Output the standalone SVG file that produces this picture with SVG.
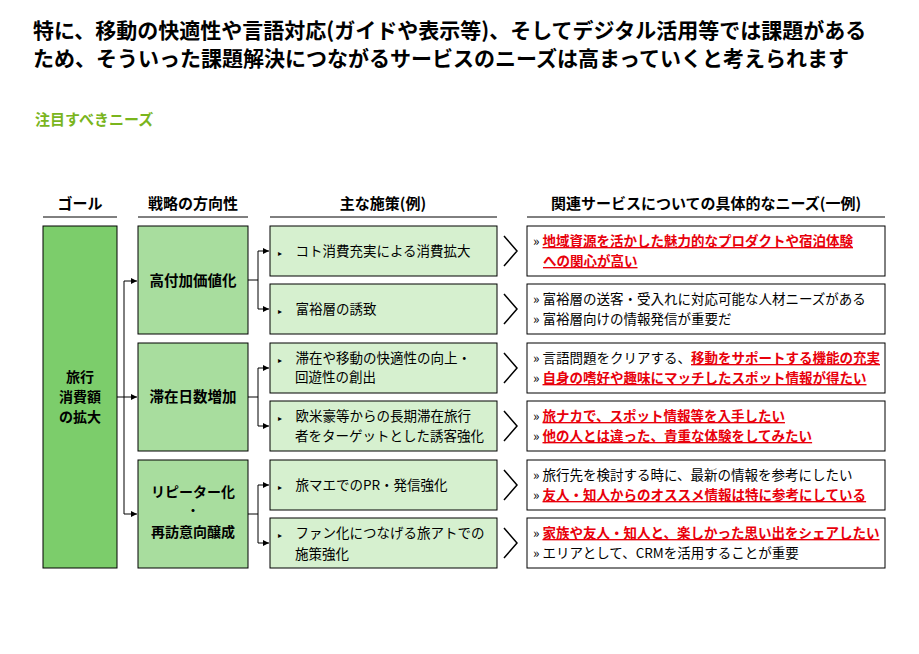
<svg xmlns="http://www.w3.org/2000/svg" width="919" height="654" viewBox="0 0 919 654">
<defs>
<marker id="ar" viewBox="0 0 6 6" refX="6" refY="3" markerWidth="6" markerHeight="6" orient="auto"><path d="M0,0L6,3L0,6z" fill="#000"/></marker>
<style>
text{font-family:"Noto Sans CJK JP","Noto Sans",sans-serif;fill:#000}
.t{font-size:21px;font-weight:bold}
.h{font-size:15px;text-anchor:middle;font-weight:bold}
.b{stroke:#000;stroke-width:1}
.g{fill:#7ccd6b}.s{fill:#a8dd9e}.m{fill:#d6f0cf}.n{fill:#fff}
.bt{font-size:14.5px;font-weight:bold;text-anchor:middle}
.mt{font-size:13.5px}
.r{fill:#e8000b;font-weight:bold;text-decoration:underline}
.ln{stroke:#000;fill:none}
.ch{stroke:#000;fill:none;stroke-width:1.5}
</style>
</defs>
<rect width="919" height="654" fill="#fff"/>
<text class="t" x="33" y="38">特に、移動の快適性や言語対応(ガイドや表示等)、そしてデジタル活用等では課題がある</text>
<text class="t" x="33" y="66">ため、そういった課題解決につながるサービスのニーズは高まっていくと考えられます</text>
<text x="35" y="125" style="font-size:15px;font-weight:bold;fill:#7ab51d">注目すべきニーズ</text>
<g id="headers">
<text class="h" x="80" y="209">ゴール</text><line x1="43" y1="217" x2="117" y2="217" class="ln"/>
<text class="h" x="193" y="209">戦略の方向性</text><line x1="138" y1="217" x2="248" y2="217" class="ln"/>
<text class="h" x="383" y="209">主な施策(例)</text><line x1="270" y1="217" x2="497" y2="217" class="ln"/>
<text class="h" x="706" y="209">関連サービスについての具体的なニーズ(一例)</text><line x1="527" y1="217" x2="885" y2="217" class="ln"/>
</g>
<g id="goal"><rect class="b g" x="43" y="226" width="74" height="342"/>
<text class="bt" x="80" y="382" style="font-size:14px">旅行</text><text class="bt" x="80" y="402" style="font-size:14px">消費額</text><text class="bt" x="80" y="422" style="font-size:14px">の拡大</text></g>
<g id="s1"><rect class="b s" x="138" y="226" width="110" height="108"/><text class="bt" x="193" y="286">高付加価値化</text></g>
<g id="s2"><rect class="b s" x="138" y="343" width="110" height="108"/><text class="bt" x="193" y="402">滞在日数増加</text></g>
<g id="s3"><rect class="b s" x="138" y="460" width="110" height="108"/><text class="bt" x="193" y="497" style="font-size:14px">リピーター化</text><text class="bt" x="193" y="516" style="font-size:12px">・</text><text class="bt" x="193" y="537" style="font-size:14px">再訪意向醸成</text></g>
<g id="connectors">
<path class="ln" d="M117,397H124M124,281V514"/>
<path class="ln" d="M124,281H137" marker-end="url(#ar)"/>
<path class="ln" d="M124,397H137" marker-end="url(#ar)"/>
<path class="ln" d="M124,514H137" marker-end="url(#ar)"/>
<path class="ln" d="M248,280H258M258,251V309M248,397H258M258,368V426M248,514H258M258,485V543"/>
<path class="ln" d="M258,251H269" marker-end="url(#ar)"/><path class="ln" d="M258,309H269" marker-end="url(#ar)"/>
<path class="ln" d="M258,368H269" marker-end="url(#ar)"/><path class="ln" d="M258,426H269" marker-end="url(#ar)"/>
<path class="ln" d="M258,485H269" marker-end="url(#ar)"/><path class="ln" d="M258,543H269" marker-end="url(#ar)"/>
<path class="ch" d="M504,236L517,251L504,266M504,294L517,309L504,324M504,353L517,368L504,383M504,411L517,426L504,441M504,470L517,485L504,500M504,528L517,543L504,558"/>
</g>
<g id="m1"><rect class="b m" x="270" y="226" width="227" height="50"/><text class="mt" x="278" y="256"><tspan font-size="8">▸</tspan>　コト消費充実による消費拡大</text></g>
<g id="m2"><rect class="b m" x="270" y="284" width="227" height="50"/><text class="mt" x="278" y="314"><tspan font-size="8">▸</tspan>　富裕層の誘致</text></g>
<g id="m3"><rect class="b m" x="270" y="343" width="227" height="50"/><text class="mt" x="278" y="363"><tspan font-size="8">▸</tspan>　滞在や移動の快適性の向上・</text><text class="mt" x="295" y="382">回遊性の創出</text></g>
<g id="m4"><rect class="b m" x="270" y="401" width="227" height="50"/><text class="mt" x="278" y="421"><tspan font-size="8">▸</tspan>　欧米豪等からの長期滞在旅行</text><text class="mt" x="295" y="441">者をターゲットとした誘客強化</text></g>
<g id="m5"><rect class="b m" x="270" y="460" width="227" height="50"/><text class="mt" x="278" y="490"><tspan font-size="8">▸</tspan>　旅マエでのPR・発信強化</text></g>
<g id="m6"><rect class="b m" x="270" y="518" width="227" height="50"/><text class="mt" x="278" y="538"><tspan font-size="8">▸</tspan>　ファン化につなげる旅アトでの</text><text class="mt" x="295" y="559">施策強化</text></g>
<g id="n1"><rect class="b n" x="527" y="226" width="358" height="50"/><text class="mt" x="533" y="246">» <tspan class="r">地域資源を活かした魅力的なプロダクトや宿泊体験</tspan></text><text class="mt" x="543" y="266"><tspan class="r">への関心が高い</tspan></text></g>
<g id="n2"><rect class="b n" x="527" y="284" width="358" height="50"/><text class="mt" x="533" y="304">» 富裕層の送客・受入れに対応可能な人材ニーズがある</text><text class="mt" x="533" y="324">» 富裕層向けの情報発信が重要だ</text></g>
<g id="n3"><rect class="b n" x="527" y="343" width="358" height="50"/><text class="mt" x="533" y="363">» 言語問題をクリアする、<tspan class="r">移動をサポートする機能の充実</tspan></text><text class="mt" x="533" y="383">» <tspan class="r">自身の嗜好や趣味にマッチしたスポット情報が得たい</tspan></text></g>
<g id="n4"><rect class="b n" x="527" y="401" width="358" height="50"/><text class="mt" x="533" y="421">» <tspan class="r">旅ナカで、スポット情報等を入手したい</tspan></text><text class="mt" x="533" y="441">» <tspan class="r">他の人とは違った、貴重な体験をしてみたい</tspan></text></g>
<g id="n5"><rect class="b n" x="527" y="460" width="358" height="50"/><text class="mt" x="533" y="480">» 旅行先を検討する時に、最新の情報を参考にしたい</text><text class="mt" x="533" y="500">» <tspan class="r">友人・知人からのオススメ情報は特に参考にしている</tspan></text></g>
<g id="n6"><rect class="b n" x="527" y="518" width="358" height="50"/><text class="mt" x="533" y="538">» <tspan class="r">家族や友人・知人と、楽しかった思い出をシェアしたい</tspan></text><text class="mt" x="533" y="558">» エリアとして、CRMを活用することが重要</text></g>
</svg>
